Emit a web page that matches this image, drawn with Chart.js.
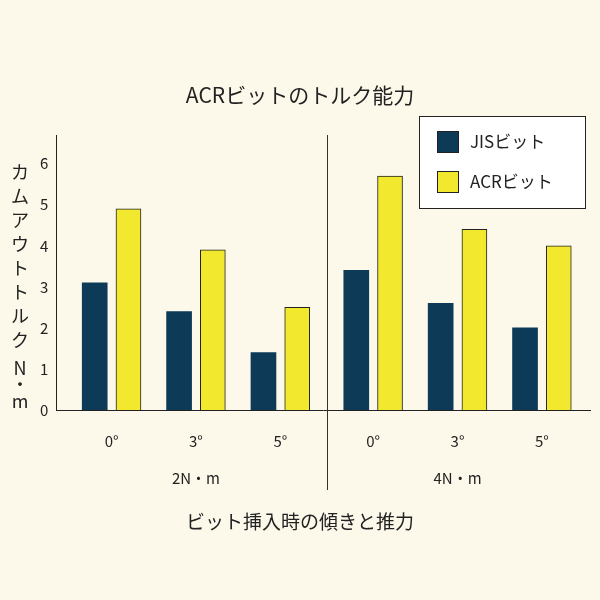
<!DOCTYPE html>
<html><head><meta charset="utf-8">
<script src="https://cdn.jsdelivr.net/npm/chart.js@4"></script>
<style>html,body{margin:0;background:#fcf8ea}#w{width:600px;height:600px}</style></head>
<body><div id="w"><canvas id="c"></canvas></div>
<script>
const angleLabels=["0°","3°","5°","0°","3°","5°"];
const groupLabels=["2N・m","4N・m"];
const positions=[0,1,2,3.1,4.1,5.1];
const jisValues=[3.1,2.4,1.4,3.4,2.6,2.0];
const acrValues=[4.9,3.9,2.5,5.7,4.4,4.0];
const seriesNames=["JISビット","ACRビット"];
const F='"Noto Sans CJK JP","Noto Sans",sans-serif';
const deco={id:'deco',afterDraw(ch){
 const c=ch.ctx,x=ch.scales.x,y=ch.scales.y,a=ch.chartArea;
 c.save();c.fillStyle='#222';c.textAlign='center';c.textBaseline='middle';
 c.font='21px '+F;c.fillText('ACRビットのトルク能力',300,95);
 c.font='19px '+F;c.fillText('ビット挿入時の傾きと推力',300,522);
 c.font='15px '+F;
 positions.forEach((p,i)=>c.fillText(angleLabels[i],x.getPixelForValue(p),441));
 c.fillText(groupLabels[0],x.getPixelForValue(1),478);
 c.fillText(groupLabels[1],x.getPixelForValue(4.1),478);
 c.strokeStyle='#333';c.lineWidth=1;c.beginPath();
 const dx=Math.round(x.getPixelForValue(2.55))+0.5;c.moveTo(dx,a.top);c.lineTo(dx,490);c.stroke();
 c.font='18px '+F;const t='カムアウトトルク';
 [...t].forEach((ch2,i)=>c.fillText(ch2,20,172+i*24));
 c.fillText('N',20,368);c.fillText('・',20,384);c.fillText('m',20,401);
 c.fillStyle='#fff';c.fillRect(419,116,166,92);c.strokeStyle='#222';c.strokeRect(419.5,116.5,166,92);
 const cols=['#0d3a57','#f2e82e'];
 [0,1].forEach(i=>{const yy=142+i*40;c.fillStyle=cols[i];c.fillRect(437,yy-11,22,22);
  c.strokeStyle='#222';c.strokeRect(437.5,yy-10.5,21,21);
  c.fillStyle='#222';c.textAlign='left';c.font='17px '+F;c.fillText(seriesNames[i],470,yy);});
 c.restore();}};
new Chart(document.getElementById('c'),{type:'bar',
 data:{datasets:[
  {label:seriesNames[0],data:positions.map((p,i)=>({x:p-0.2,y:jisValues[i]})),backgroundColor:'#0d3a57',borderColor:'#0d3a57',borderWidth:0,barThickness:25,grouped:false},
  {label:seriesNames[1],data:positions.map((p,i)=>({x:p+0.2,y:acrValues[i]})),backgroundColor:'#f2e82e',borderColor:'#222',borderWidth:1,barThickness:25,grouped:false}]},
 options:{responsive:true,maintainAspectRatio:false,animation:false,
  layout:{padding:{top:135,bottom:182,left:32,right:10}},
  plugins:{legend:{display:false},tooltip:{enabled:false}},
  scales:{x:{type:'linear',offset:false,min:-0.655,max:5.67,ticks:{display:false},grid:{display:false},border:{color:'#222'}},
   y:{min:0,max:6.7,ticks:{stepSize:1,color:'#222',font:{size:15,family:F},padding:8,callback:v=>Number.isInteger(v)?v:''},grid:{display:false,drawTicks:false},border:{color:'#222'}}}},
 plugins:[deco]});
</script></body></html>
